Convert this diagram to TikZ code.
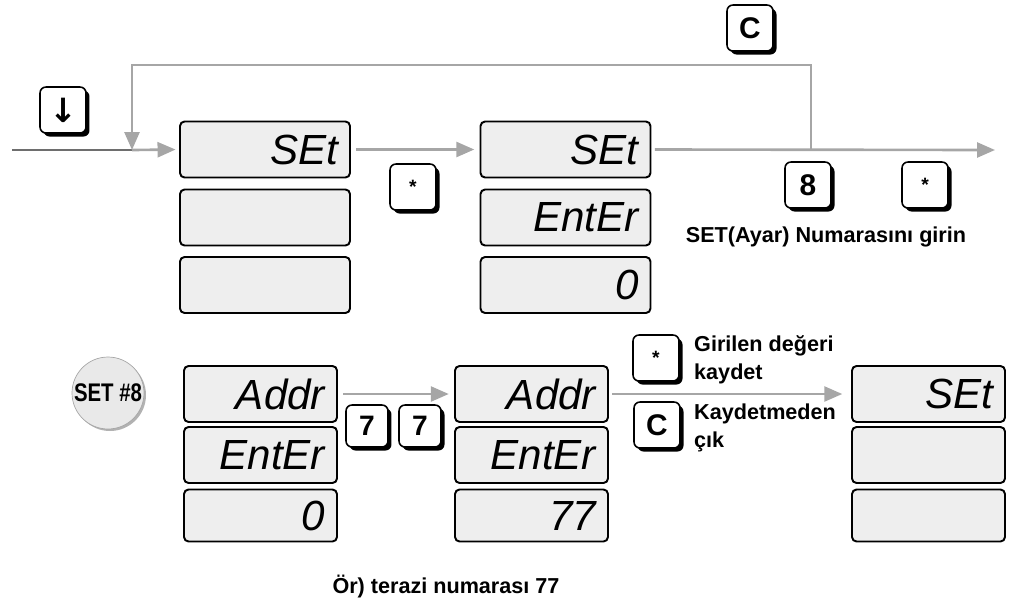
\documentclass[tikz,border=0pt]{standalone}
\usepackage{fontspec}
\setmainfont{Liberation Sans}
\newfontfamily\symfont{DejaVu Sans}
\usetikzlibrary{arrows.meta, shadows}
\definecolor{lineGray}{HTML}{A6A6A6}
\definecolor{lineDark}{HTML}{6E6E6E}
\definecolor{lcdFill}{HTML}{EEEEEE}
\definecolor{badgeFill}{HTML}{E9E9E9}

\begin{document}
\begin{tikzpicture}[
    x=0.02cm, y=-0.02cm,
    flow/.style={draw=lineGray, line width=1.5pt,
                 -{Triangle[length=0.36cm, width=0.3cm]}},
    lcd/.style={draw, fill=lcdFill, line width=1.1pt, rounded corners=0.09cm,
                minimum height=1.12cm, inner xsep=0.24cm, align=right,
                text width=2.92cm, font=\fontsize{24}{24}\selectfont\itshape},
    lcdS/.style={lcd, text width=2.58cm},
    lcdLow/.style={minimum height=1.04cm},
    key/.style={draw, fill=white, line width=0.9pt, rounded corners=0.12cm,
                minimum size=0.92cm, inner sep=0pt,
                font=\fontsize{17}{17}\selectfont\bfseries,
                drop shadow={shadow xshift=0.07cm, shadow yshift=-0.07cm,
                             fill=black, opacity=1}},
    keyS/.style={key, minimum size=0.84cm, font=\fontsize{16}{16}\selectfont\bfseries},
    star/.style={font=\fontsize{11}{11}\selectfont\bfseries},
    note/.style={font=\fontsize{12.3}{16}\selectfont\bfseries, align=left},
  ]
    \useasboundingbox (0,0) rectangle (1011,603);

    % ust akis
    \coordinate (start) at (12,150);
    \coordinate (join) at (132,150);
    \coordinate (loopL) at (132,65);
    \coordinate (split) at (811,150);
    \coordinate (out) at (995,150);
    \node[key] (kdown) at (63,110) {\symfont\bfseries\fontsize{19}{19}\selectfont ↓};
    \node[key] (kc1) at (750,28) {C};
    \node[lcd] (s1a) at (265,149.5) {SEt};
    \node[lcd] (s1b) at (265,217.5) {};
    \node[lcd] (s1c) at (265,285) {};
    \node[lcd] (s2a) at (565.5,149.5) {SEt};
    \node[lcd] (s2b) at (565.5,217.5) {EntEr};
    \node[lcd] (s2c) at (565.5,285) {0};
    \node[key, star] (kst1) at (413,187) {*};
    \node[key] (k8) at (808,185) {8};
    \node[key, star] (kst2) at (925,185) {*};
    \node[note] (enter) at (826,237) {SET(Ayar) Numarasını girin};
    \draw[draw=lineDark, line width=1.5pt] (start) -- (join);
    \draw[flow, shorten >=2pt] (join) -- (s1a.west);
    \draw[flow, shorten <=3pt, shorten >=3pt] (s1a.east) -- (s2a.west);
    \draw[flow, shorten <=2pt] (s2a.east) -- (out);
    \draw[flow] (split) |- (loopL) -- (join);

    % SET #8
    \node[circle, draw=gray!70, fill=badgeFill, minimum size=1.44cm, inner sep=0pt,
          drop shadow={shadow xshift=0.04cm, shadow yshift=-0.04cm, fill=gray!60, opacity=1},
          font=\fontsize{14.5}{14.5}\selectfont\bfseries] (set8) at (108,393)
          {\scalebox{0.8}[1]{SET \#8}};
    \node[lcdS] (s3a) at (260.5,394) {Addr};
    \node[lcdS] (s3b) at (260.5,455) {EntEr};
    \node[lcdS, lcdLow] (s3c) at (260.5,515.5) {0};
    \node[lcdS] (s4a) at (531.5,394) {Addr};
    \node[lcdS] (s4b) at (531.5,455) {EntEr};
    \node[lcdS, lcdLow] (s4c) at (531.5,515.5) {77};
    \node[lcdS] (s5a) at (928.5,394) {SEt};
    \node[lcdS] (s5b) at (928.5,455) {};
    \node[lcdS, lcdLow] (s5c) at (928.5,515.5) {};
    \node[keyS] (k7a) at (367,426) {7};
    \node[keyS] (k7b) at (420,426) {7};
    \node[key, star] (kst3) at (656,358) {*};
    \node[key] (kc2) at (657,425) {C};
    \node[note, anchor=west] (save) at (688,360) {Girilen değeri\\kaydet};
    \node[note, anchor=west] (quit) at (688,428) {Kaydetmeden\\çık};
    \draw[flow, shorten <=3pt, shorten >=3pt] (s3a.east) -- (s4a.west);
    \draw[flow, shorten <=2pt, shorten >=5pt] (s4a.east) -- (s5a.west);

    \node[note] (example) at (446,587) {Ör) terazi numarası 77};
  \end{tikzpicture}
\end{document}
